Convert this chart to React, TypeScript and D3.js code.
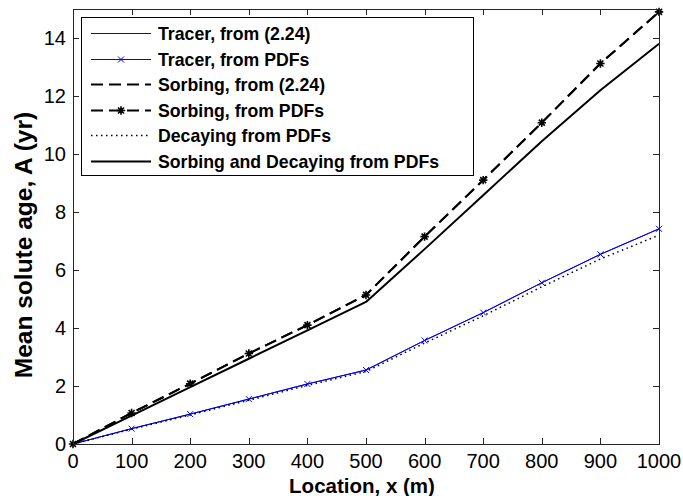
import React from "react";
import * as d3 from "d3";

// Location along the flow path (m)
const locations = [0, 100, 200, 300, 400, 500, 600, 700, 800, 900, 1000];

// Mean solute age (yr) for each case
const tracerFormula = [0, 0.53, 1.03, 1.55, 2.07, 2.55, 3.57, 4.53, 5.56, 6.54, 7.42];
const tracerPdf = [0, 0.53, 1.03, 1.55, 2.07, 2.55, 3.57, 4.53, 5.56, 6.54, 7.42];
const sorbingFormula = [0, 1.07, 2.08, 3.12, 4.1, 5.14, 7.15, 9.1, 11.08, 13.12, 14.9];
const sorbingPdf = [0, 1.07, 2.08, 3.12, 4.1, 5.14, 7.15, 9.1, 11.08, 13.12, 14.9];
const decayingPdf = [0, 0.51, 1.0, 1.51, 2.02, 2.5, 3.48, 4.42, 5.42, 6.38, 7.2];
const sorbingDecayingPdf = [0, 0.98, 1.96, 2.94, 3.92, 4.9, 6.72, 8.58, 10.44, 12.2, 13.8];

const xTicks = [0, 100, 200, 300, 400, 500, 600, 700, 800, 900, 1000];
const yTicks = [0, 2, 4, 6, 8, 10, 12, 14];

const legendLabels = [
  "Tracer, from (2.24)",
  "Tracer, from PDFs",
  "Sorbing, from (2.24)",
  "Sorbing, from PDFs",
  "Decaying from PDFs",
  "Sorbing and Decaying from PDFs",
];

type Style = {
  color: string;
  width: number;
  dash?: string;
  marker?: "x" | "star";
};

const styles: Style[] = [
  { color: "#0000ff", width: 1 },
  { color: "#0000ff", width: 1, marker: "x" },
  { color: "#000000", width: 2, dash: "12,6" },
  { color: "#000000", width: 2, dash: "12,6", marker: "star" },
  { color: "#000000", width: 1.5, dash: "1.5,3.5" },
  { color: "#000000", width: 2 },
];

const seriesValues = [
  tracerFormula,
  tracerPdf,
  sorbingFormula,
  sorbingPdf,
  decayingPdf,
  sorbingDecayingPdf,
];

const W = 683;
const H = 496;
const left = 73;
const right = 659;
const top = 9;
const bottom = 444;

const font = "'Liberation Sans', Arial, Helvetica, sans-serif";
const axisColor = "#262626";

function Marker({ kind, x, y, color }: { kind: "x" | "star"; x: number; y: number; color: string }) {
  if (kind === "x") {
    const s = 3;
    return (
      <path
        d={`M${x - s},${y - s}L${x + s},${y + s}M${x - s},${y + s}L${x + s},${y - s}`}
        stroke={color}
        strokeWidth={1}
        fill="none"
      />
    );
  }
  const s = 4.2;
  const d = 3;
  return (
    <path
      d={`M${x - s},${y}L${x + s},${y}M${x},${y - s}L${x},${y + s}M${x - d},${y - d}L${x + d},${y + d}M${x - d},${y + d}L${x + d},${y - d}`}
      stroke={color}
      strokeWidth={1.6}
      fill="none"
    />
  );
}

export default function App() {
  const x = d3.scaleLinear().domain([0, 1000]).range([left, right]);
  const y = d3.scaleLinear().domain([0, 15]).range([bottom, top]);

  const line = d3
    .line<number>()
    .x((_, i) => x(locations[i]))
    .y((v) => y(v));

  const tickLen = 6;

  const legX = 81.5;
  const legY = 17.5;
  const legW = 392;
  const legH = 158;
  const rowY = (i: number) => Math.round(33 + i * 25.6) + 0.5;

  return (
    <svg
      width={W}
      height={H}
      viewBox={`0 0 ${W} ${H}`}
      style={{ position: "absolute", left: 0, top: 0, background: "#fff" }}
    >
      <rect x={0} y={0} width={W} height={H} fill="#fff" />

      <defs>
        <clipPath id="plotClip">
          <rect x={left - 6} y={top - 6} width={right - left + 12} height={bottom - top + 12} />
        </clipPath>
      </defs>

      {/* data series */}
      <g clipPath="url(#plotClip)">
        {seriesValues.map((vals, si) => {
          const st = styles[si];
          return (
            <g key={si}>
              <path
                d={line(vals) || ""}
                fill="none"
                stroke={st.color}
                strokeWidth={st.width}
                strokeDasharray={st.dash}
                strokeLinejoin="round"
              />
              {st.marker &&
                vals.map((v, i) => (
                  <Marker key={i} kind={st.marker!} x={x(locations[i])} y={y(v)} color={st.color} />
                ))}
            </g>
          );
        })}
      </g>

      {/* axes box */}
      <rect
        x={left + 0.5}
        y={top + 0.5}
        width={right - left}
        height={bottom - top}
        fill="none"
        stroke={axisColor}
        strokeWidth={1}
      />

      {/* x ticks */}
      {xTicks.map((t) => {
        const px = Math.round(x(t)) + 0.5;
        return (
          <g key={`xt${t}`}>
            <line x1={px} x2={px} y1={bottom} y2={bottom - tickLen} stroke={axisColor} />
            <line x1={px} x2={px} y1={top} y2={top + tickLen} stroke={axisColor} />
            <text
              x={x(t)}
              y={468}
              textAnchor="middle"
              fontFamily={font}
              fontSize={20}
              fill="#000"
            >
              {t}
            </text>
          </g>
        );
      })}

      {/* y ticks */}
      {yTicks.map((t) => {
        const py = Math.round(y(t)) + 0.5;
        return (
          <g key={`yt${t}`}>
            <line x1={left} x2={left + tickLen} y1={py} y2={py} stroke={axisColor} />
            <line x1={right} x2={right - tickLen} y1={py} y2={py} stroke={axisColor} />
            <text
              x={66}
              y={y(t) + 7}
              textAnchor="end"
              fontFamily={font}
              fontSize={20}
              fill="#000"
            >
              {t}
            </text>
          </g>
        );
      })}

      {/* axis labels */}
      <text
        x={362}
        y={493}
        textAnchor="middle"
        fontFamily={font}
        fontSize={20.5}
        fontWeight="bold"
        fill="#000"
      >
        Location, x (m)
      </text>
      <text
        transform="translate(32,245) rotate(-90)"
        textAnchor="middle"
        fontFamily={font}
        fontSize={24.5}
        fontWeight="bold"
        fill="#000"
      >
        Mean solute age, A (yr)
      </text>

      {/* legend */}
      <rect x={legX} y={legY} width={legW} height={legH} fill="#fff" stroke="#000" strokeWidth={1} />
      {legendLabels.map((label, i) => {
        const st = styles[i];
        const cy = rowY(i);
        const x1 = 91;
        const x2 = 151;
        return (
          <g key={label}>
            <line
              x1={x1}
              x2={x2}
              y1={cy}
              y2={cy}
              stroke={st.color}
              strokeWidth={st.width}
              strokeDasharray={st.dash}
            />
            {st.marker && <Marker kind={st.marker} x={(x1 + x2) / 2} y={cy} color={st.color} />}
            <text
              x={158}
              y={cy + 6}
              fontFamily={font}
              fontSize={17.7}
              fontWeight="bold"
              fill="#000"
            >
              {label}
            </text>
          </g>
        );
      })}
    </svg>
  );
}
